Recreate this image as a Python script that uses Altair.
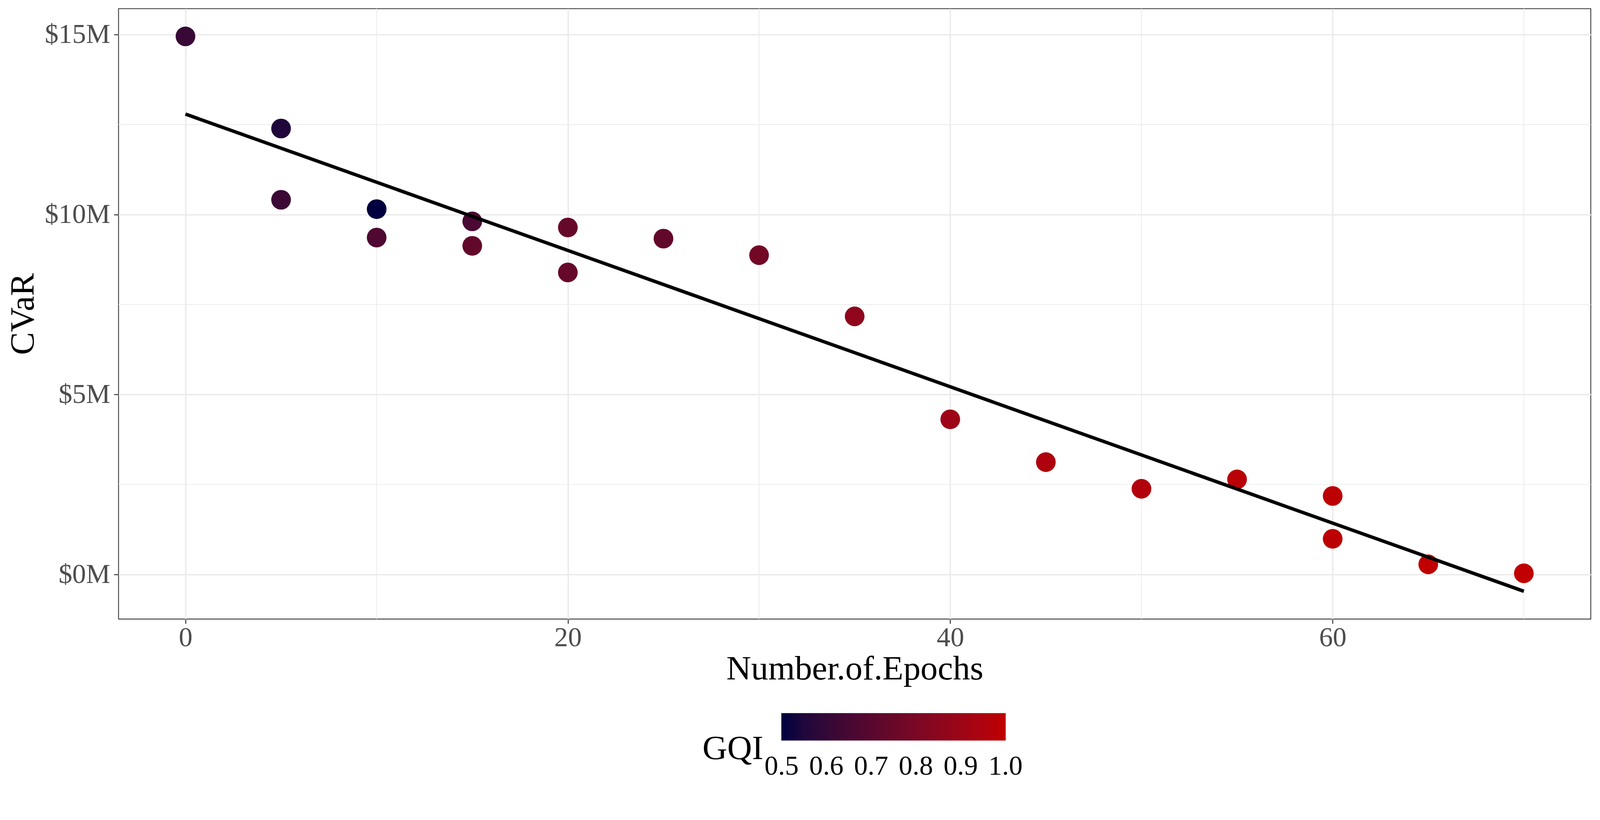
import altair as alt
import pandas as pd

# ---- data ----
epochs = [0, 5, 5, 10, 10, 15, 15, 20, 20, 25, 30, 35, 40, 45, 50, 55, 60, 60, 65, 70]
cvar_m = [14.95, 12.39, 10.41, 10.15, 9.36, 9.81, 9.13, 9.64, 8.39, 9.33, 8.87,
          7.17, 4.31, 3.12, 2.38, 2.64, 2.18, 0.99, 0.28, 0.03]
gqi = [0.61, 0.55, 0.62, 0.50, 0.67, 0.66, 0.73, 0.74, 0.74, 0.73, 0.78,
       0.86, 0.90, 0.95, 0.96, 0.98, 0.99, 0.99, 1.00, 1.00]

x_ticks = [0, 20, 40, 60]
x_minor = [10, 30, 50, 70]
y_ticks = [0, 5, 10, 15]
y_minor = [2.5, 7.5, 12.5]
gqi_ticks = [0.5, 0.6, 0.7, 0.8, 0.9, 1.0]

FONT = "Liberation Serif"

df = pd.DataFrame({"epochs": epochs, "cvar": cvar_m, "gqi": gqi})
dfx = pd.DataFrame({"v": x_minor})
dfy = pd.DataFrame({"v": y_minor})

xscale = alt.Scale(domain=[-3.5, 73.5], nice=False, zero=False)
yscale = alt.Scale(domain=[-1.24, 15.72], nice=False, zero=False)

minor_x = alt.Chart(dfx).mark_rule(color="#ebebeb", strokeWidth=2).encode(
    x=alt.X("v:Q", scale=xscale)
)
minor_y = alt.Chart(dfy).mark_rule(color="#ebebeb", strokeWidth=2).encode(
    y=alt.Y("v:Q", scale=yscale)
)

points = alt.Chart(df).mark_circle(size=2670, opacity=1).encode(
    x=alt.X("epochs:Q", scale=xscale,
            axis=alt.Axis(values=x_ticks, title="Number.of.Epochs")),
    y=alt.Y("cvar:Q", scale=yscale,
            axis=alt.Axis(values=y_ticks, title="CVaR",
                          labelExpr="'$' + datum.value + 'M'")),
    color=alt.Color(
        "gqi:Q",
        scale=alt.Scale(domain=[0.4995, 1.0005], range=["#000040", "#c00000"],
                        interpolate="lab"),
        legend=alt.Legend(
            title="GQI", orient="none", direction="horizontal",
            legendX=1533, legendY=1850,
            titleOrient="left", titleAnchor="end", titleBaseline="line-top",
            titleLineHeight=46,
            titlePadding=47,
            gradientLength=589, gradientThickness=72,
            gradientStrokeWidth=0,
            values=gqi_ticks, format=".1f",
            labelOverlap=False, labelOffset=33,
            labelFontSize=72, labelFont=FONT, labelColor="black",
            titleFontSize=90, titleFont=FONT, titleColor="black",
            titleFontWeight="normal", padding=0,
        ),
    ),
)

line = alt.Chart(df).transform_regression("epochs", "cvar").mark_line(
    color="black", strokeWidth=9
).encode(
    x=alt.X("epochs:Q", scale=xscale),
    y=alt.Y("cvar:Q", scale=yscale),
)

chart = alt.layer(minor_x, minor_y, points, line).properties(
    width=3865, height=1603,
    autosize=alt.AutoSizeParams(type="none"),
    padding={"left": 303, "top": -12, "right": 16, "bottom": 493},
).configure_view(
    stroke="#333333", strokeWidth=2.2, fill="white"
).configure_axis(
    domain=False,
    grid=True, gridColor="#ebebeb", gridWidth=3.8,
    tickColor="#333333", tickWidth=2.5, tickSize=12,
    labelFont=FONT, labelFontSize=72, labelColor="#4d4d4d",
    titleFont=FONT, titleFontSize=90, titleColor="black",
    titleFontWeight="normal",
).configure_axisX(
    labelPadding=2, titlePadding=2,
).configure_axisY(
    labelPadding=10, titlePadding=10,
)

chart.save("out.html", embed_options={"renderer": "svg", "actions": False})
